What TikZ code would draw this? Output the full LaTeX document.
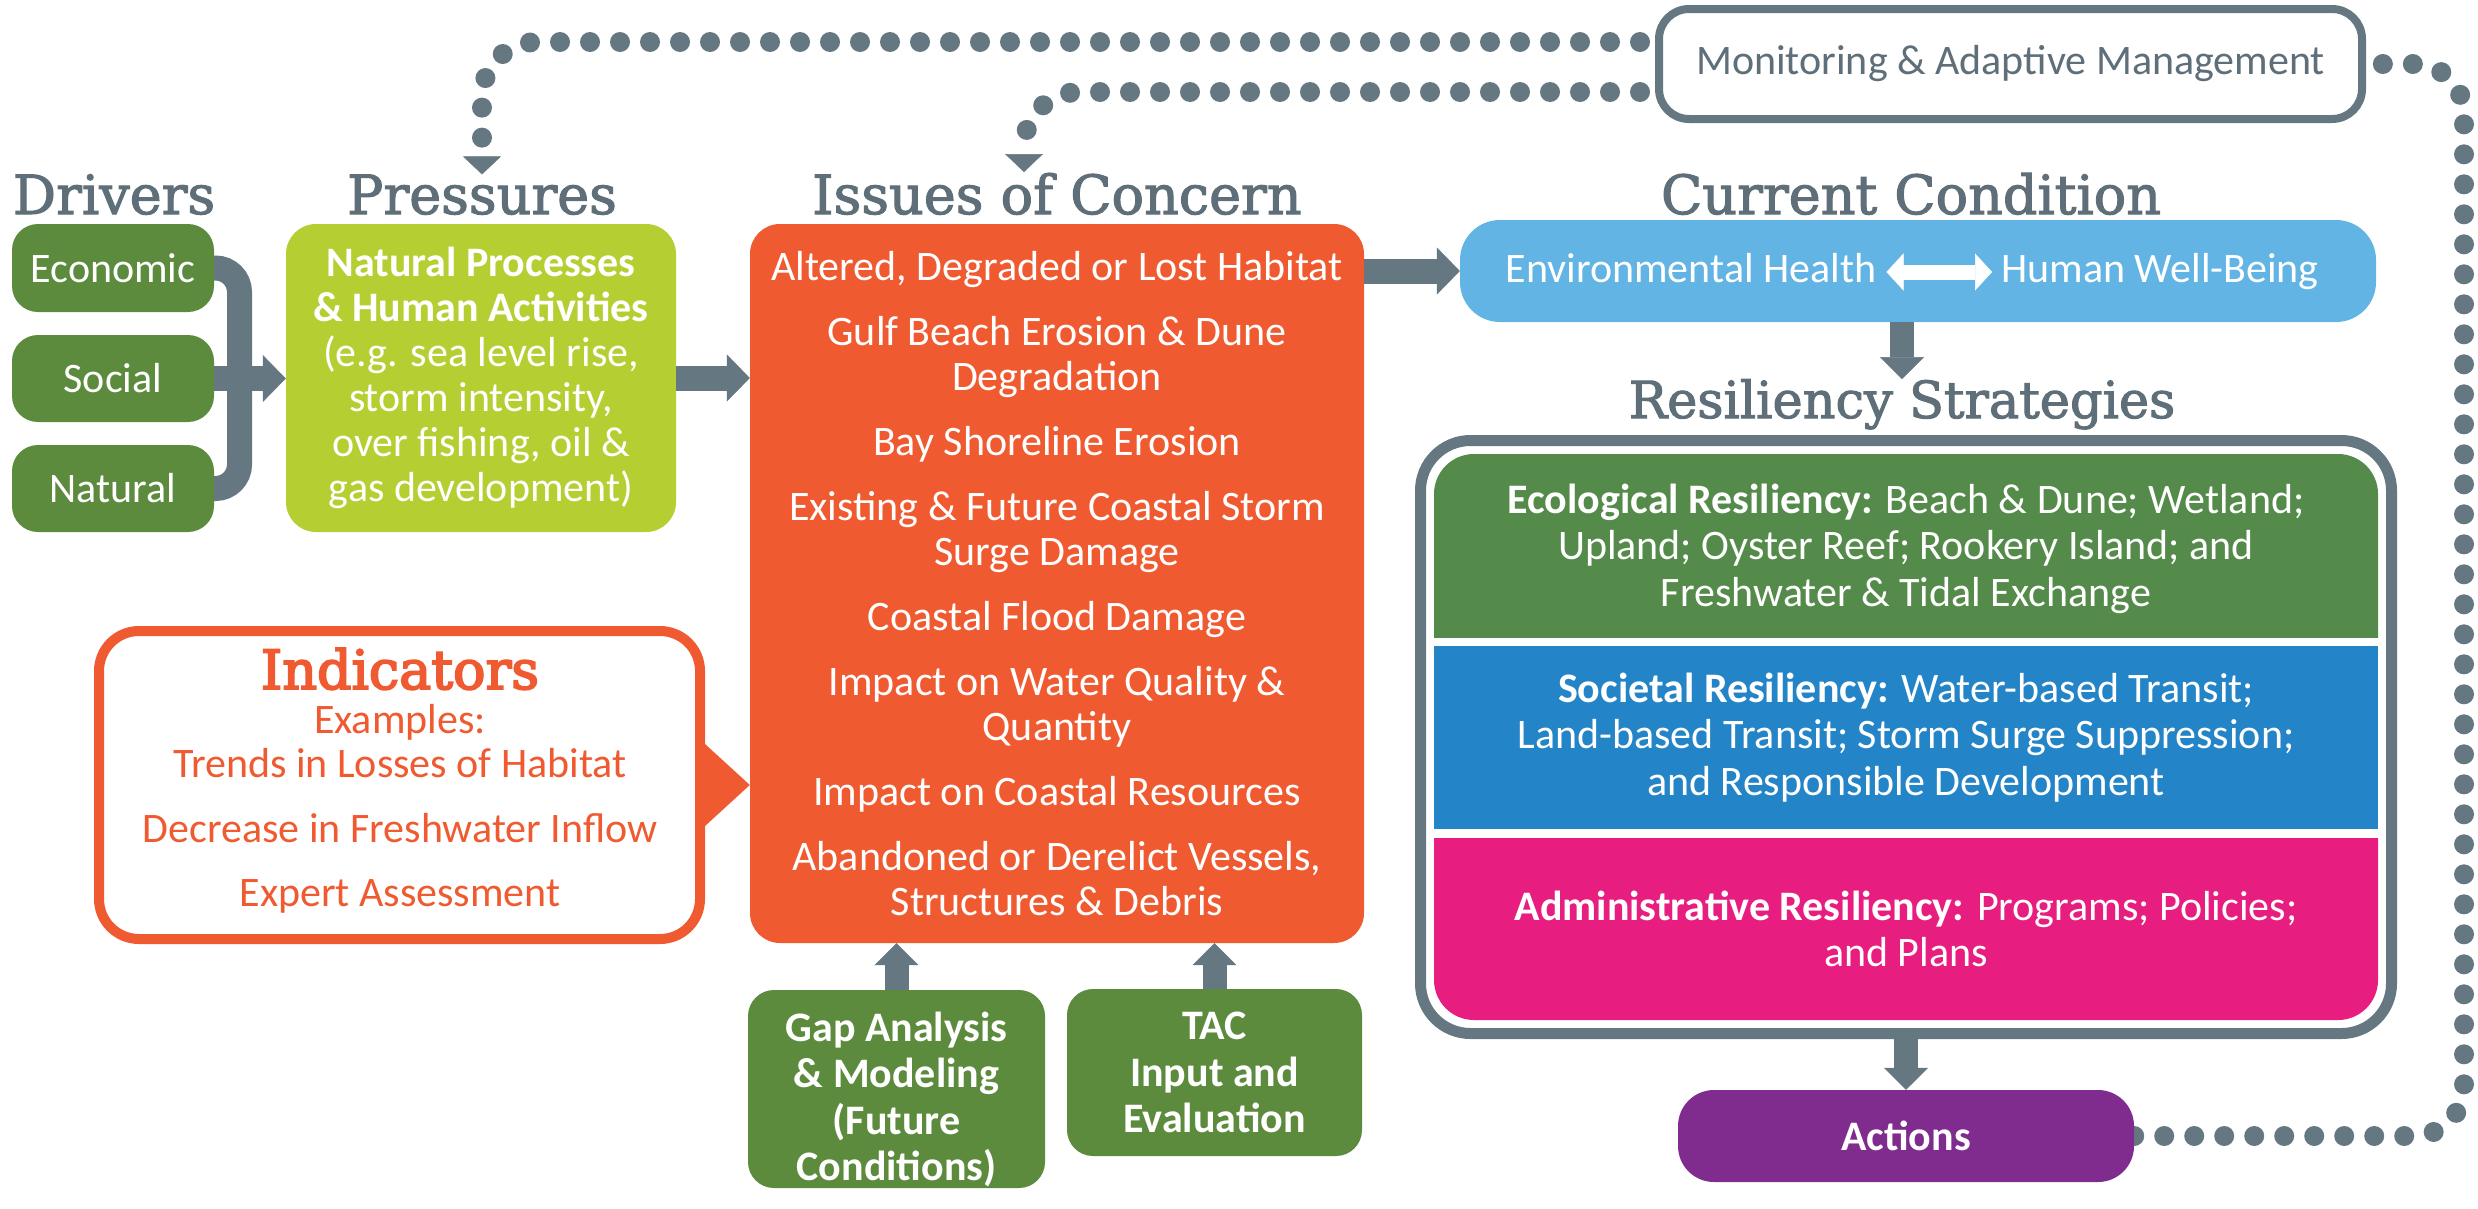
\documentclass[tikz,border=0pt]{standalone}
\usepackage{fontspec}
\setmainfont{Carlito}
\newfontfamily\slabfont[FakeBold=2]{DejaVu Serif}
\newfontfamily\slabbfont[FakeBold=3.5]{DejaVu Serif}
\usetikzlibrary{arrows.meta,calc}
\definecolor{cgray}{RGB}{101,120,130}
\definecolor{ctitle}{RGB}{94,111,121}
\definecolor{cdrv}{RGB}{93,139,62}
\definecolor{cprs}{RGB}{181,207,51}
\definecolor{corange}{RGB}{240,90,48}
\definecolor{cblue}{RGB}{98,180,228}
\definecolor{cecor}{RGB}{84,139,74}
\definecolor{csoc}{RGB}{35,132,199}
\definecolor{cadm}{RGB}{231,30,127}
\definecolor{cact}{RGB}{128,43,142}
\pgfdeclarelayer{back}
\pgfdeclarelayer{bg}
\pgfsetlayers{back,bg,main}
\newcommand\txtfont{\fontsize{42}{45}\selectfont}
\newcommand\bandfont{\fontsize{42}{46.5}\selectfont}
\newcommand\ttlfont{\slabfont\fontsize{54}{60}\selectfont}
\begin{document}
\begin{tikzpicture}[x=1pt,y=-1pt,
  ttl/.style={font=\ttlfont, text=ctitle, inner sep=0pt, anchor=base},
  bx/.style={rectangle, rounded corners=26pt, inner sep=0pt, align=center, text=white, font=\txtfont},
  band/.style={rectangle, inner sep=0pt, align=center, text=white, font=\bandfont, minimum width=944pt, minimum height=183pt},
  plain/.style={inner sep=0pt, font=\txtfont, anchor=base},
  fat/.style={draw=cgray, line width=25pt, -{Triangle[length=23pt,width=47pt,line width=0.5pt]}},
  fatv/.style={draw=cgray, line width=24pt, -{Triangle[length=22pt,width=44pt,line width=0.5pt]}},
  dots/.style={draw=cgray, line width=20pt, line cap=round, dash pattern=on 0pt off 30pt},
  dottip/.style={-{Triangle[length=18pt,width=38pt,line width=0.5pt]}}
]
\useasboundingbox (0,0) rectangle (2478,1208);
\begin{pgfonlayer}{back}
\fill[white] (0,0) rectangle (2478,1208);
\end{pgfonlayer}

% titles
\node[ttl] (tdrv) at (114,214) {Drivers};
\node[ttl] (tprs) at (482,214) {Pressures};
\node[ttl] (tiss) at (1057,214) {Issues of Concern};
\node[ttl] (tcur) at (1911,214) {Current Condition};
\node[ttl, font=\slabfont\fontsize{51}{58}\selectfont] (tres) at (1902,418) {Resiliency Strategies};

% drivers
\node[bx, fill=cdrv, minimum width=202pt, minimum height=88pt] (eco) at (113,268) {Economic};
\node[bx, fill=cdrv, minimum width=202pt, minimum height=87pt] (soc) at (113,378.5) {Social};
\node[bx, fill=cdrv, minimum width=202pt, minimum height=87pt] (nat) at (113,488.5) {Natural};

% pressures
\node[bx, fill=cprs, rounded corners=30pt, minimum width=390pt, minimum height=308pt] (prs) at (481,378)
 {\textbf{Natural Processes}\\ \textbf{\& Human Activities}\\ (e.g. sea level rise,\\ storm intensity,\\ over fishing, oil \&\\ gas development)};

% issues
\node[bx, fill=corange, rounded corners=30pt, minimum width=614pt, minimum height=719pt] (iss) at (1057,583.5)
 {Altered, Degraded or Lost Habitat\\[20pt]
  Gulf Beach Erosion \& Dune\\ Degradation\\[20pt]
  Bay Shoreline Erosion\\[20pt]
  Existing \& Future Coastal Storm\\ Surge Damage\\[20pt]
  Coastal Flood Damage\\[20pt]
  Impact on Water Quality \&\\ Quantity\\[20pt]
  Impact on Coastal Resources\\[20pt]
  Abandoned or Derelict Vessels,\\ Structures \& Debris};

% gap and TAC
\node[bx, font=\bandfont, fill=cdrv, minimum width=297pt, minimum height=198pt] (gap) at (896.5,1089)
 {\rule{0pt}{50pt}\textbf{Gap Analysis}\\ \textbf{\& Modeling}\\ \textbf{(Future}\\ \textbf{Conditions)}};
\node[bx, font=\bandfont, fill=cdrv, minimum width=295pt, minimum height=167pt] (tac) at (1214.5,1072.5)
 {\textbf{TAC}\\ \textbf{Input and}\\ \textbf{Evaluation}};

% indicators
\node[draw=corange, line width=10pt, fill=white, rounded corners=40pt, minimum width=601pt, minimum height=308pt, inner sep=0pt] (ind) at (399.5,785) {};
\fill[corange] ([yshift=41pt]ind.east) -- (ind.east -| iss.west) -- ([yshift=-41pt]ind.east) -- cycle;
\node[font=\slabbfont\fontsize{54}{60}\selectfont, text=corange, inner sep=0pt, anchor=base] (indt) at (400,689) {Indicators};
\node[plain, text=corange] (ind0) at (400,733) {Examples:};
\node[plain, text=corange] (ind1) at (400,777) {Trends in Losses of Habitat};
\node[plain, text=corange] (ind2) at (400,842) {Decrease in Freshwater Inflow};
\node[plain, text=corange] (ind3) at (400,906) {Expert Assessment};

% monitoring
\node[bx, draw=cgray, line width=8pt, fill=white, text=ctitle, rounded corners=30pt, minimum width=703pt, minimum height=110pt] (mon) at (2010.5,64) {Monitoring \& Adaptive Management};

% current condition
\node[bx, fill=cblue, rounded corners=40pt, minimum width=916pt, minimum height=102pt] (cur) at (1918,271) {};
\node[plain, text=white] (envh) at (1691,282) {Environmental Health};
\node[plain, text=white] (hwb) at (2160,282) {Human Well-Being};
\draw[white, line width=15pt, {Triangle[length=17pt,width=37pt,line width=0.5pt]}-{Triangle[length=17pt,width=37pt,line width=0.5pt]}]
  ([shift={(10pt,10pt)}]envh.base east) -- ([shift={(-9pt,10pt)}]hwb.base west);

% resiliency strategies
\node[draw=cgray, line width=11pt, fill=white, rounded corners=50pt, minimum width=971pt, minimum height=593pt, inner sep=0pt] (rbox) at (1906,737) {};
\node[band, path picture={\fill[cecor, rounded corners=40pt] ([yshift=-60pt]path picture bounding box.south west) rectangle (path picture bounding box.north east);}] (ecor) at (1906,545.5)
 {\rule{0pt}{36pt}\textbf{Ecological Resiliency:} Beach \& Dune; Wetland;\\ Upland; Oyster Reef; Rookery Island; and\\ Freshwater \& Tidal Exchange};
\node[band, fill=csoc] (socr) at (1906,737.5)
 {\textbf{Societal Resiliency:} Water-based Transit;\\ Land-based Transit; Storm Surge Suppression;\\ and Responsible Development};
\node[band, minimum height=182pt, path picture={\fill[cadm, rounded corners=40pt] (path picture bounding box.south west) rectangle ([yshift=60pt]path picture bounding box.north east);}] (admr) at (1906,929)
 {\textbf{Administrative Resiliency:} Programs; Policies;\\ and Plans};

% actions
\node[bx, fill=cact, rounded corners=36pt, minimum width=456pt, minimum height=92pt] (act) at (1906,1136) {\textbf{Actions}};

% solid connectors
\draw[cgray, line width=25pt, rounded corners=24pt] (eco.east) -| (239.5,378) |- (nat.east);
\draw[fat] (soc.east) -- (soc.east -| prs.west);
\draw[fat] (prs.east) -- (prs.east -| iss.west);
\draw[fat] (iss.east |- cur.west) -- (cur.west);
\draw[fatv] (tres.north |- cur.south) -- (tres.north);
\draw[fatv] (rbox.south) -- (act.north);
\draw[fatv] (gap.north) -- (gap.north |- iss.south);
\draw[fatv] (tac.north) -- (tac.north |- iss.south);

% dotted feedback connectors
\coordinate (mA) at (1640,42);
\coordinate (mB) at (1640,92);
\coordinate (bEnd) at (1024,172);
\coordinate (rc) at (2464,600);
\begin{pgfonlayer}{bg}
\draw[dots, rounded corners=55pt, dottip] (mA) -| (tprs.north);
\draw[dots, rounded corners=55pt, dottip] (mB) -| (bEnd);
\draw[dots, rounded corners=50pt] (act.east) -| (rc) |- (mon.east);
\end{pgfonlayer}
\end{tikzpicture}
\end{document}
